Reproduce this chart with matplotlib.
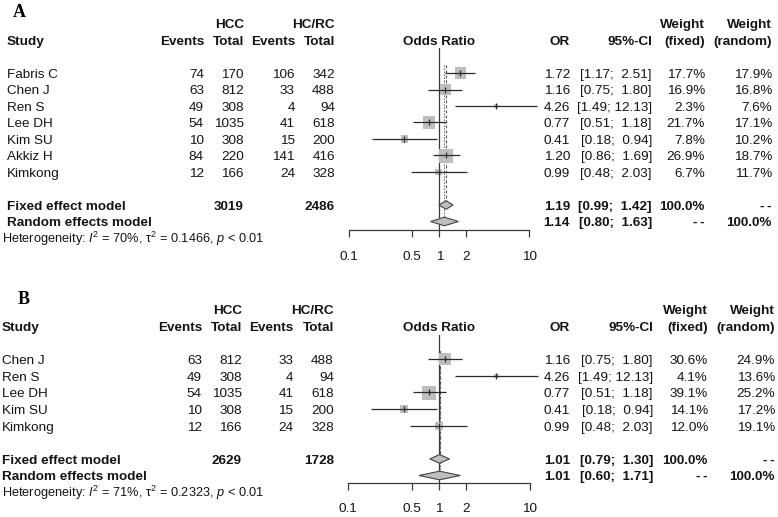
import matplotlib
matplotlib.use('Agg')
import matplotlib.pyplot as plt
from matplotlib.ticker import NullLocator, FixedLocator, FixedFormatter
import numpy as np

plt.rcParams['font.family'] = ['Liberation Sans', 'DejaVu Sans']
plt.rcParams['mathtext.fontset'] = 'custom'
plt.rcParams['mathtext.rm'] = 'Liberation Sans'
plt.rcParams['mathtext.it'] = 'Liberation Sans:italic'
plt.rcParams['mathtext.bf'] = 'Liberation Sans:bold'

# ---------------- Panel A data ----------------
a_studies = ["Fabris C", "Chen J", "Ren S", "Lee DH", "Kim SU", "Akkiz H", "Kimkong"]
a_ev_hcc = [74, 63, 49, 54, 10, 84, 12]
a_tot_hcc = [170, 812, 308, 1035, 308, 220, 166]
a_ev_ctrl = [106, 33, 4, 41, 15, 141, 24]
a_tot_ctrl = [342, 488, 94, 618, 200, 416, 328]
a_or = [1.72, 1.16, 4.26, 0.77, 0.41, 1.20, 0.99]
a_lo = [1.17, 0.75, 1.49, 0.51, 0.18, 0.86, 0.48]
a_hi = [2.51, 1.80, 12.13, 1.18, 0.94, 1.69, 2.03]
a_wf = [17.7, 16.9, 2.3, 21.7, 7.8, 26.9, 6.7]
a_wr = [17.9, 16.8, 7.6, 17.1, 10.2, 18.7, 11.7]
a_fixed = [1.19, 0.99, 1.42]
a_random = [1.14, 0.80, 1.63]
a_totals = [3019, 2486]
a_het = ["70%", "0.1466", "< 0.01"]

# ---------------- Panel B data ----------------
b_studies = ["Chen J", "Ren S", "Lee DH", "Kim SU", "Kimkong"]
b_ev_hcc = [63, 49, 54, 10, 12]
b_tot_hcc = [812, 308, 1035, 308, 166]
b_ev_ctrl = [33, 4, 41, 15, 24]
b_tot_ctrl = [488, 94, 618, 200, 328]
b_or = [1.16, 4.26, 0.77, 0.41, 0.99]
b_lo = [0.75, 1.49, 0.51, 0.18, 0.48]
b_hi = [1.80, 12.13, 1.18, 0.94, 2.03]
b_wf = [30.6, 4.1, 39.1, 14.1, 12.0]
b_wr = [24.9, 13.6, 25.2, 17.2, 19.1]
b_fixed = [1.01, 0.79, 1.30]
b_random = [1.01, 0.60, 1.71]
b_totals = [2629, 1728]
b_het = ["71%", "0.2323", "< 0.01"]

ticks = [0.1, 0.5, 1, 2, 10]
tick_labels = ["0.1", "0.5", "1", "2", "10"]

W, H = 778, 517
fig = plt.figure(figsize=(W / 100, H / 100), dpi=100)

TXT = '#141414'
FS = 9.7
FS_HET = 9.2
GRAY = '#BEBEBE'
LINE = '#2a2a2a'
DASHES = "-\u2009-"


def draw_panel(letter, studies, ev1, tot1, ev2, tot2, orv, lo, hi, wf, wr,
               fixed, rand, totals, het, L):
    y0, step = L['y0'], L['step']
    n = len(studies)

    # table axes, whole figure, x in pixels, y in row units
    tax = fig.add_axes([0, 0, 1, 1])
    tax.set_xlim(0, W)
    tax.set_ylim((H - y0) / step, (0 - y0) / step)
    tax.axis('off')
    tax.patch.set_alpha(0)

    off = 0.36 * FS * 100 / 72 / step  # baseline offset from cap-centre

    def t(x, r, s, ha='right', bold=False, fs=FS):
        tax.text(x, r + off * fs / FS, s, ha=ha, va='baseline', fontsize=fs,
                 fontweight='bold' if bold else 'normal', color=TXT)

    # panel letter
    tax.text(L['letter_x'], (L['letter_y'] - y0) / step + 0.36 * 13 * 100 / 72 / step,
             letter, fontsize=13, fontweight='bold', family='Liberation Serif',
             ha='left', va='baseline', color='#000000')

    c = L['cols']
    # headers
    t(c['tot1'], -3, "HCC", bold=True)
    t(c['tot2'], -3, "HC/RC", bold=True)
    t(c['wf'], -3, "Weight", bold=True)
    t(c['wr'], -3, "Weight", bold=True)
    t(c['study'], -2, "Study", ha='left', bold=True)
    t(c['ev1'], -2, "Events", bold=True)
    t(c['tot1'], -2, "Total", bold=True)
    t(c['ev2'], -2, "Events", bold=True)
    t(c['tot2'], -2, "Total", bold=True)
    t(c['or'], -2, "OR", bold=True)
    t(c['ci'], -2, "95%-CI", bold=True)
    t(c['wf'], -2, "(fixed)", bold=True)
    t(c['wr'], -2, "(random)", bold=True)

    def ci_str(a, b):
        return "[%4.2f; %5.2f]" % (a, b)

    for i in range(n):
        t(c['study'], i, studies[i], ha='left')
        t(c['ev1'], i, str(ev1[i]))
        t(c['tot1'], i, str(tot1[i]))
        t(c['ev2'], i, str(ev2[i]))
        t(c['tot2'], i, str(tot2[i]))
        t(c['or'], i, "%.2f" % orv[i])
        t(c['ci'], i, ci_str(lo[i], hi[i]))
        t(c['wf'], i, "%.1f%%" % wf[i])
        t(c['wr'], i, "%.1f%%" % wr[i])

    rf, rr, rh = n + 1, n + 2, n + 3
    t(c['study'], rf, "Fixed effect model", ha='left', bold=True)
    t(c['tot1'], rf, str(totals[0]), bold=True)
    t(c['tot2'], rf, str(totals[1]), bold=True)
    t(c['or'], rf, "%.2f" % fixed[0], bold=True)
    t(c['ci'], rf, ci_str(fixed[1], fixed[2]), bold=True)
    t(c['wf'], rf, "100.0%", bold=True)
    t(c['wr'], rf, DASHES, bold=True)
    t(c['study'], rr, "Random effects model", ha='left', bold=True)
    t(c['or'], rr, "%.2f" % rand[0], bold=True)
    t(c['ci'], rr, ci_str(rand[1], rand[2]), bold=True)
    t(c['wf'], rr, DASHES, bold=True)
    t(c['wr'], rr, "100.0%", bold=True)
    het_s = (r"Heterogeneity: $\mathit{I}^{2}$ = " + het[0]
             + r", $\mathrm{\tau}^{2}$ = " + het[1] + r", $\mathit{p}$ " + het[2])
    t(L['het_x'], rh, het_s, ha='left', fs=FS_HET)

    # forest axes
    x01, x10 = L['x01'], L['x10']
    top_px, axis_px = L['top'], L['axis']
    fax = fig.add_axes([x01 / W, 1 - axis_px / H, (x10 - x01) / W, (axis_px - top_px) / H])
    fax.patch.set_alpha(0)
    fax.set_xscale('log')
    fax.set_xlim(0.1, 10)
    fax.set_ylim((axis_px - y0) / step, (top_px - y0) / step)
    for s in ['top', 'right', 'left']:
        fax.spines[s].set_visible(False)
    fax.spines['bottom'].set_color('#3a3a3a')
    fax.spines['bottom'].set_linewidth(0.9)
    fax.xaxis.set_major_locator(FixedLocator(ticks))
    fax.xaxis.set_major_formatter(FixedFormatter(tick_labels))
    fax.xaxis.set_minor_locator(NullLocator())
    fax.set_yticks([])
    fax.tick_params(axis='x', length=4.8, width=0.9, color='#3a3a3a', pad=10,
                    labelsize=FS, labelcolor=TXT)

    fax.text(1, -2 + off, "Odds Ratio", ha='center', va='baseline', fontsize=FS,
             fontweight='bold', color=TXT, clip_on=False)

    fax.axvline(1, color='#3a3a3a', lw=0.9, zorder=1)
    hd = 0.26
    fax.plot([fixed[0], fixed[0]], [-0.5, rf - hd], ls=(0, (2.5, 2)), color='#555555',
             lw=0.8, zorder=1, clip_on=False)
    fax.plot([rand[0], rand[0]], [-0.5, rr - hd], ls=(0, (1.2, 1.5)), color='#555555',
             lw=0.8, zorder=1, clip_on=False)

    rows = np.arange(n)
    wmax = max(wf)
    side_pt = [14.0 * np.sqrt(w / wmax) * 0.72 for w in wf]
    fax.scatter(orv, rows, marker='s', s=[sp ** 2 for sp in side_pt], color=GRAY,
                linewidths=0, zorder=2, clip_on=False)
    fax.hlines(rows, lo, hi, color=LINE, lw=0.9, zorder=3, clip_on=False)
    fax.scatter(orv, rows, marker='|', s=16, color=LINE, linewidths=0.9, zorder=4,
                clip_on=False)

    for rrow, (est, l, h) in [(rf, fixed), (rr, rand)]:
        fax.fill([l, est, h, est], [rrow, rrow - hd, rrow, rrow + hd], facecolor=GRAY,
                 edgecolor='#444444', lw=0.8, zorder=3, clip_on=False)


LA = dict(y0=73.0, step=16.5, top=48.0, axis=230.0, x01=349.3, x10=529.3,
          letter_x=12.5, letter_y=10.5, het_x=2,
          cols=dict(study=7, ev1=204, tot1=244, ev2=295, tot2=335, **{'or': 570},
                    ci=652, wf=705, wr=772))
LB = dict(y0=359.3, step=16.6, top=335.0, axis=482.7, x01=348.3, x10=530.0,
          letter_x=17.5, letter_y=297, het_x=2,
          cols=dict(study=2, ev1=202, tot1=242, ev2=293.5, tot2=334, **{'or': 570},
                    ci=653, wf=708, wr=775))

draw_panel("A", a_studies, a_ev_hcc, a_tot_hcc, a_ev_ctrl, a_tot_ctrl, a_or, a_lo, a_hi,
           a_wf, a_wr, a_fixed, a_random, a_totals, a_het, LA)
draw_panel("B", b_studies, b_ev_hcc, b_tot_hcc, b_ev_ctrl, b_tot_ctrl, b_or, b_lo, b_hi,
           b_wf, b_wr, b_fixed, b_random, b_totals, b_het, LB)

fig.savefig("out.png", dpi=100, facecolor='white')
